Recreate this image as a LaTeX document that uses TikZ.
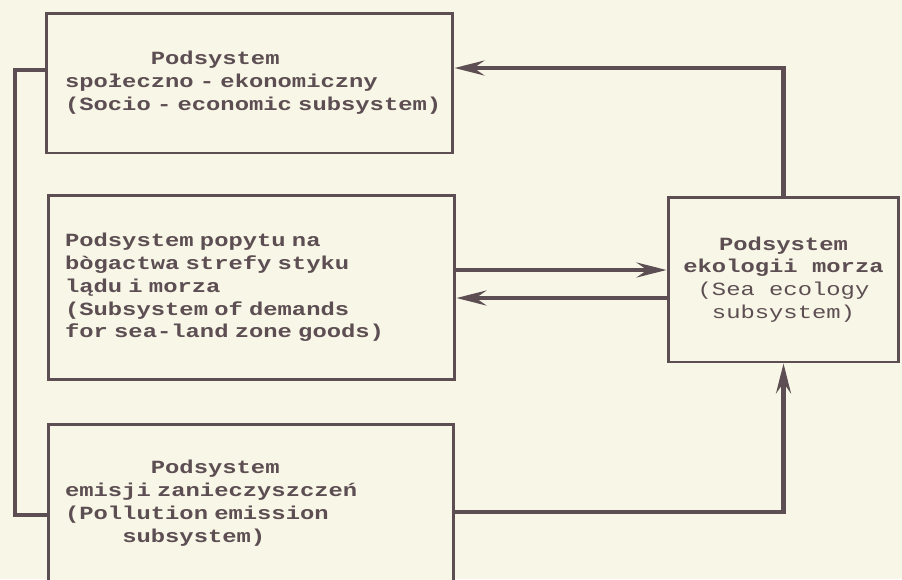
\documentclass[tikz,border=0pt]{standalone}
\usepackage{fontspec}
\usepackage{tikz}
\usetikzlibrary{arrows.meta}
\newfontfamily\tw[FakeStretch=1.28]{Liberation Mono}
\definecolor{ink}{RGB}{92,78,82}
\definecolor{paper}{RGB}{248,246,230}
\tikzstyle{sysbox}=[draw=ink, line width=1.7pt, fill=paper, text=ink, inner sep=0pt, font=\tw\fontsize{10.6}{13}\selectfont]
\tikzstyle{flow}=[draw=ink, line width=2.4pt]
\tikzset{flowarrow/.style={flow, arrows={-Stealth[length=17pt, width=8.5pt, inset=6pt]}}}

\begin{document}
\begin{tikzpicture}[x=0.02cm, y=-0.02cm]
	\useasboundingbox (0,0) rectangle (902,579);
	\fill[paper] (0,0) rectangle (902,579);
	\begin{scope}
		\node (socio) at (249.5, 83)[sysbox, minimum width=8.14cm, minimum height=2.8cm, text width=7.38cm, align=left]
			{\bfseries\hphantom{xxxxxx}Podsystem\\ \bfseries społeczno - ekonomiczny\\ \mbox{(Socio - economic subsystem)}};
		\node (demand) at (251.5, 287.5)[sysbox, minimum width=8.14cm, minimum height=3.7cm, text width=7.46cm, align=left]
			{\bfseries Podsystem popytu na\\ \bfseries bògactwa strefy styku\\ \bfseries lądu i morza\\ (Subsystem of demands\\ for sea-land zone goods)};
		\node (emission) at (251, 503)[sysbox, minimum width=8.12cm, minimum height=3.16cm, text width=7.44cm, align=left]
			{\bfseries\hphantom{xxxxxx}Podsystem\\ \bfseries emisji zanieczyszczeń\\ (Pollution emission\\ \hphantom{xxxx}subsystem)};
		\node (ecology) at (783.5, 279.5)[sysbox, minimum width=4.62cm, minimum height=3.3cm, align=center]
			{\bfseries Podsystem\\ \bfseries ekologii morza\\ (Sea ecology\\ subsystem)};
		\coordinate (loop) at (15, 0);
	\end{scope}
	\begin{scope}
		\draw [flowarrow] (ecology.north) |- (socio.east |- 0,68);
		\draw [flowarrow] (demand.east |- 0,270) -- (ecology.west |- 0,270);
		\draw [flowarrow] (ecology.west |- 0,298) -- (demand.east |- 0,298);
		\draw [flowarrow] (emission.east |- 0,512) -| (ecology.south);
		\draw [flow] (emission.west |- 0,515) -- (loop |- 0,515) -- (loop |- 0,70) -- (socio.west |- 0,70);
	\end{scope}
\end{tikzpicture}
\end{document}
